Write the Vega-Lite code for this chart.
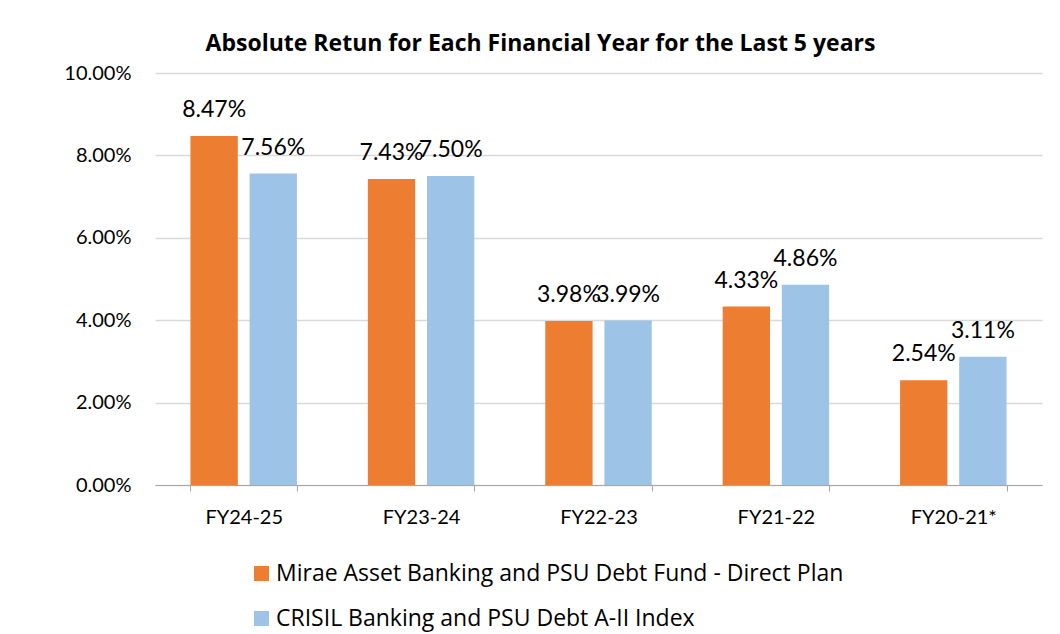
{
  "$schema": "https://vega.github.io/schema/vega-lite/v6.json",
  "autosize": "none",
  "width": 887,
  "height": 412,
  "padding": {"left": 155, "top": 73, "right": 18, "bottom": 149},
  "background": "white",
  "title": {
    "text": "Absolute Retun for Each Financial Year for the Last 5 years",
    "font": "Open Sans",
    "fontSize": 23,
    "fontWeight": "bold",
    "color": "#000000",
    "anchor": "middle",
    "frame": "group",
    "dx": -58,
    "offset": 7
  },
  "data": {
    "values": [
      {"year": "FY24-25", "series": "Mirae Asset Banking and PSU Debt Fund - Direct Plan", "value": 0.0847},
      {"year": "FY24-25", "series": "CRISIL Banking and PSU Debt A-II Index", "value": 0.0756},
      {"year": "FY23-24", "series": "Mirae Asset Banking and PSU Debt Fund - Direct Plan", "value": 0.0743},
      {"year": "FY23-24", "series": "CRISIL Banking and PSU Debt A-II Index", "value": 0.0750},
      {"year": "FY22-23", "series": "Mirae Asset Banking and PSU Debt Fund - Direct Plan", "value": 0.0398},
      {"year": "FY22-23", "series": "CRISIL Banking and PSU Debt A-II Index", "value": 0.0399},
      {"year": "FY21-22", "series": "Mirae Asset Banking and PSU Debt Fund - Direct Plan", "value": 0.0433},
      {"year": "FY21-22", "series": "CRISIL Banking and PSU Debt A-II Index", "value": 0.0486},
      {"year": "FY20-21*", "series": "Mirae Asset Banking and PSU Debt Fund - Direct Plan", "value": 0.0254},
      {"year": "FY20-21*", "series": "CRISIL Banking and PSU Debt A-II Index", "value": 0.0311}
    ]
  },
  "encoding": {
    "x": {
      "field": "year",
      "type": "nominal",
      "sort": ["FY24-25", "FY23-24", "FY22-23", "FY21-22", "FY20-21*"],
      "scale": {"paddingInner": 0.4, "paddingOuter": 0.2},
      "axis": {
        "title": null,
        "labelAngle": 0,
        "labelFont": "Lato",
        "labelFontSize": 20,
        "labelColor": "#000000",
        "labelPadding": 16,
        "domainColor": "#A6A6A6",
        "tickColor": "#A6A6A6",
        "tickSize": 6,
        "tickBand": "extent",
        "grid": false
      }
    },
    "xOffset": {
      "field": "series",
      "type": "nominal",
      "sort": ["Mirae Asset Banking and PSU Debt Fund - Direct Plan", "CRISIL Banking and PSU Debt A-II Index"],
      "scale": {"paddingInner": 0.2, "paddingOuter": 0}
    },
    "y": {
      "field": "value",
      "type": "quantitative",
      "scale": {"domain": [0, 0.1], "nice": false},
      "axis": {
        "title": null,
        "values": [0, 0.02, 0.04, 0.06, 0.08, 0.1],
        "format": ".2%",
        "labelFont": "Lato",
        "labelFontSize": 20,
        "labelColor": "#000000",
        "ticks": false,
        "domain": false,
        "labelPadding": 24,
        "gridColor": "#D9D9D9",
        "gridWidth": 1.3
      }
    }
  },
  "layer": [
    {
      "mark": {"type": "bar"},
      "encoding": {
        "color": {
          "field": "series",
          "type": "nominal",
          "scale": {
            "domain": ["Mirae Asset Banking and PSU Debt Fund - Direct Plan", "CRISIL Banking and PSU Debt A-II Index"],
            "range": ["#ED7D31", "#9DC3E6"]
          },
          "legend": {
            "title": null,
            "orient": "none",
            "legendX": 95,
            "legendY": 489,
            "direction": "vertical",
            "symbolType": "square",
            "symbolSize": 225,
            "symbolStrokeWidth": 0,
            "labelFont": "Open Sans",
            "labelFontSize": 23,
            "labelColor": "#000000",
            "labelOffset": 3,
            "labelLimit": 800,
            "rowPadding": 21,
            "padding": 0
          }
        }
      }
    },
    {
      "mark": {"type": "text", "baseline": "alphabetic", "dy": -19, "font": "Lato", "fontSize": 23, "color": "#000000"},
      "encoding": {
        "text": {"field": "value", "type": "quantitative", "format": ".2%"}
      }
    }
  ],
  "config": {"view": {"stroke": null}}
}
